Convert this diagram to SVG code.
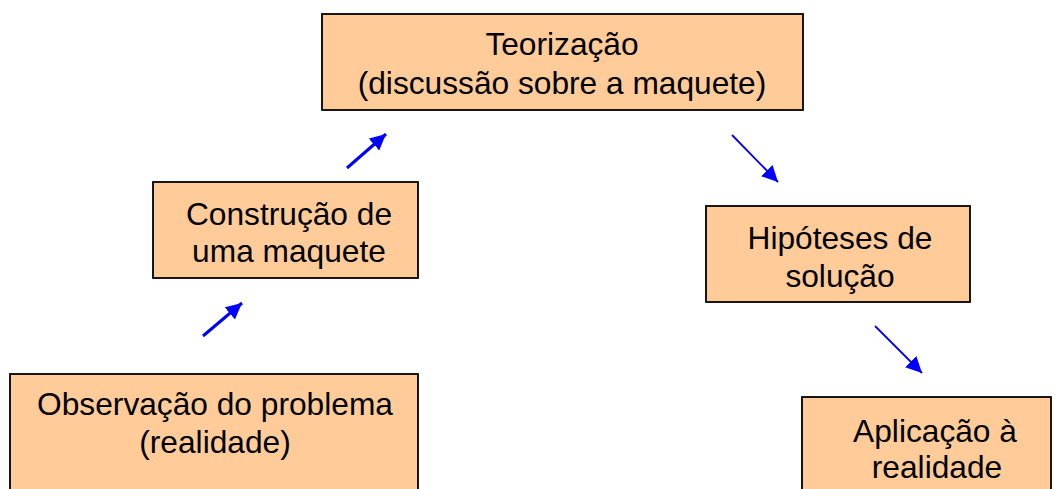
<svg xmlns="http://www.w3.org/2000/svg" width="1054" height="489" viewBox="0 0 1054 489">
<style>
.box{fill:#FFCC99;stroke:#000;stroke-width:1.8}
.t{font-family:"Liberation Sans",Arial,sans-serif;font-size:31.7px;fill:#000;text-anchor:middle}
.up{stroke:#0000FF;stroke-width:3;fill:none}
.dn{stroke:#0000FF;stroke-width:1.8;fill:none}
</style>
<defs>
<marker id="ah" markerUnits="userSpaceOnUse" markerWidth="20" markerHeight="16" refX="16" refY="8" orient="auto">
<path d="M0,0 L16,8 L0,16 Z" fill="#0000FF"/>
</marker>
</defs>
<rect width="1054" height="489" fill="#fff"/>
<g id="teorizacao">
<rect class="box" x="322" y="14" width="481" height="96"/>
<text class="t" x="562" y="55">Teorização</text>
<text class="t" x="562" y="94">(discussão sobre a maquete)</text>
</g>
<g id="construcao">
<rect class="box" x="153" y="182" width="265" height="96"/>
<text class="t" x="289" y="225">Construção de</text>
<text class="t" x="289" y="262">uma maquete</text>
</g>
<g id="observacao">
<rect class="box" x="10" y="374" width="408" height="130"/>
<text class="t" x="215" y="415">Observação do problema</text>
<text class="t" x="215" y="453">(realidade)</text>
</g>
<g id="hipoteses">
<rect class="box" x="706" y="206" width="264" height="96"/>
<text class="t" x="840" y="249">Hipóteses de</text>
<text class="t" x="840" y="287">solução</text>
</g>
<g id="aplicacao">
<rect class="box" x="802" y="397" width="249" height="110"/>
<text class="t" x="935" y="442">Aplicação à</text>
<text class="t" x="937" y="478">realidade</text>
</g>
<g id="connectors">
<line class="up" x1="203" y1="336" x2="242" y2="303" marker-end="url(#ah)"/>
<line class="up" x1="347" y1="168" x2="386" y2="134" marker-end="url(#ah)"/>
<line class="dn" x1="732" y1="135" x2="778" y2="182" marker-end="url(#ah)"/>
<line class="dn" x1="875" y1="326" x2="922" y2="373" marker-end="url(#ah)"/>
</g>
</svg>
